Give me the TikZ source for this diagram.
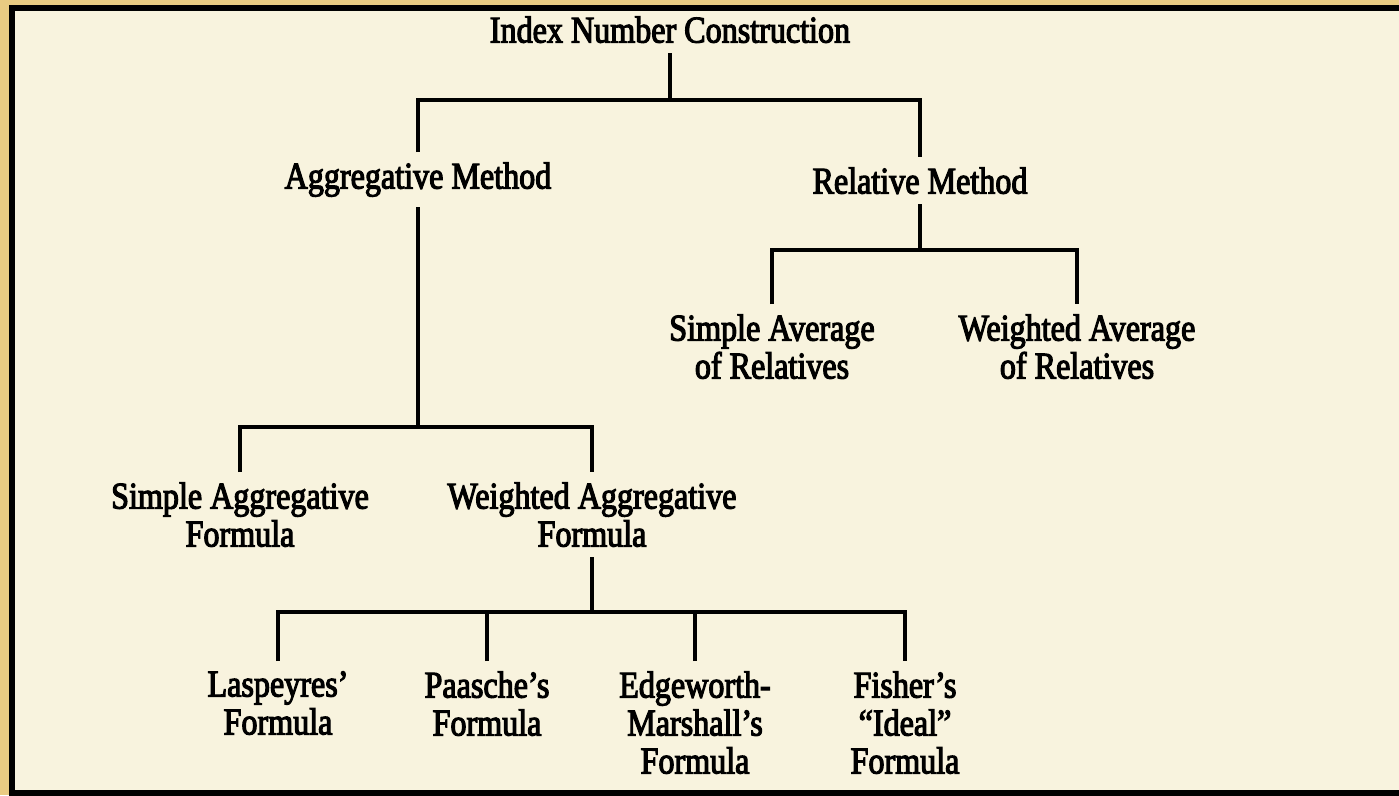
\documentclass[tikz,border=0pt]{standalone}
\usepackage{fontspec}
\newfontfamily\scanfont{Liberation Serif}[FakeStretch=0.85,
  UprightFeatures={FakeBold=3}]
\usetikzlibrary{positioning}
\definecolor{goldbg}{HTML}{E9CB82}
\definecolor{creambg}{HTML}{F8F3DE}

\begin{document}
\begin{tikzpicture}[x=0.02cm, y=-0.02cm,
    item/.style={anchor=north, align=center, inner xsep=0pt, inner ysep=0.2cm,
      font=\scanfont\fontsize{21.5}{21.6}\selectfont},
    link/.style={line width=2.1pt}]
    % 背景与边框
    \useasboundingbox (0,0) rectangle (1399,795);
    \clip (0,0) rectangle (1399,795);
    \fill[goldbg] (0,0) rectangle (1399,795);
    \draw[line width=3.4pt, fill=creambg] (12,8) rectangle (1420,793);

    % 第一、二层
    \node[item] (root) at (670,6) {Index Number Construction};
    \node[item] (agg) at (418,152) {Aggregative Method};
    \node[item] (rel) at (920,157) {Relative Method};

    % 相对法分支
    \node[item] (sa) at (772,304) {Simple Average\\of Relatives};
    \node[item] (wa) at (1077,304) {Weighted Average\\of Relatives};

    % 综合法分支
    \node[item] (sag) at (240,472) {Simple Aggregative\\Formula};
    \node[item] (wag) at (592,472) {Weighted Aggregative\\Formula};

    % 加权公式
    \node[item] (las) at (278,661) {Laspeyres’\\Formula};
    \node[item] (paa) at (487,661) {Paasche’s\\Formula};
    \node[item] (edg) at (695,661) {Edgeworth-\\Marshall’s\\Formula};
    \node[item] (fis) at (905,661) {Fisher’s\\“Ideal”\\Formula};

    % 连线
    \coordinate (b1) at (670,100);
    \coordinate (b2) at (920,250);
    \coordinate (b3) at (418,427);
    \coordinate (b4) at (592,612);
    \draw[link] (root.south) -- (b1);
    \draw[link] (agg.north) |- (b1) -| (rel.north);
    \draw[link] (rel.south) -- (b2);
    \draw[link] (sa.north) |- (b2) -| (wa.north);
    \draw[link] (agg.south) -- (b3);
    \draw[link] (sag.north) |- (b3) -| (wag.north);
    \draw[link] (wag.south) -- (b4);
    \draw[link] (las.north) |- (b4) -| (fis.north);
    \draw[link] (paa.north) -- (paa.north |- b4);
    \draw[link] (edg.north) -- (edg.north |- b4);
\end{tikzpicture}
\end{document}
